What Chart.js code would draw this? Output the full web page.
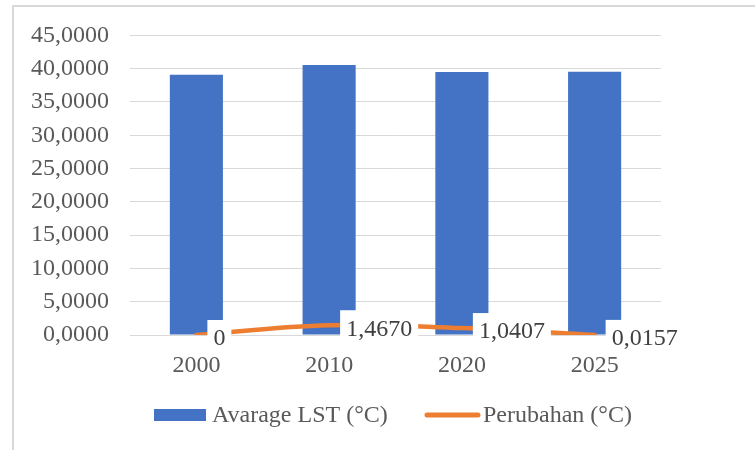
<!DOCTYPE html>
<html>
<head>
<meta charset="utf-8">
<script src="https://cdn.jsdelivr.net/npm/chart.js@4/dist/chart.umd.min.js"></script>
<style>
  html, body { margin: 0; padding: 0; background: #ffffff; }
  #chart { display: block; }
</style>
</head>
<body>
<canvas id="chart" width="755" height="450"></canvas>
<script>
// Land surface temperature per year and its change between periods
const years = ['2000', '2010', '2020', '2025'];
const avgLst = [39.08, 40.547, 39.5063, 39.522];
const perubahan = [0, 1.467, 1.0407, 0.0157];
const seriesNames = ['Avarage LST (°C)', 'Perubahan (°C)'];
const yTicks = [0, 5, 10, 15, 20, 25, 30, 35, 40, 45];

const FONT = '"Liberation Serif", "Times New Roman", serif';
const BLUE = '#4472C4';
const ORANGE = '#ED7D31';
const GRID = '#D9D9D9';
const TEXT = '#595959';

const fmt = v => v === 0 ? '0' : v.toFixed(4).replace('.', ',');

// Outer frame of the chart
const framePlugin = {
  id: 'frame',
  beforeDraw(chart) {
    const ctx = chart.ctx;
    ctx.save();
    ctx.strokeStyle = GRID;
    ctx.lineWidth = 2;
    ctx.beginPath();
    ctx.moveTo(13, chart.height + 2);
    ctx.lineTo(13, 6);
    ctx.lineTo(chart.width + 2, 6);
    ctx.stroke();
    ctx.restore();
  }
};

// Value labels on the change line, boxed in white to the right of each point
const lineLabels = {
  id: 'lineLabels',
  afterDatasetsDraw(chart) {
    const ctx = chart.ctx;
    const meta = chart.getDatasetMeta(1);
    ctx.save();
    ctx.font = '24px ' + FONT;
    ctx.textBaseline = 'middle';
    ctx.textAlign = 'left';
    meta.data.forEach((pt, i) => {
      const txt = fmt(perubahan[i]);
      const w = ctx.measureText(txt).width;
      const x = pt.x + 11;
      const cy = pt.y + 3;
      ctx.fillStyle = '#ffffff';
      ctx.fillRect(x, cy - 18, w + 12, 36);
      ctx.fillStyle = '#404040';
      ctx.fillText(txt, x + 6, cy + 1);
    });
    ctx.restore();
  }
};

// Legend below the axis
const legendPlugin = {
  id: 'customLegend',
  afterDraw(chart) {
    const ctx = chart.ctx;
    const y = 415;
    ctx.save();
    ctx.font = '24px ' + FONT;
    ctx.textBaseline = 'middle';
    ctx.fillStyle = BLUE;
    ctx.fillRect(154, y - 6, 52, 12);
    ctx.fillStyle = TEXT;
    ctx.fillText(seriesNames[0], 212, y + 1);
    ctx.strokeStyle = ORANGE;
    ctx.lineWidth = 5;
    ctx.lineCap = 'round';
    ctx.beginPath();
    ctx.moveTo(427, y);
    ctx.lineTo(478, y);
    ctx.stroke();
    ctx.fillStyle = TEXT;
    ctx.fillText(seriesNames[1], 483, y + 1);
    ctx.restore();
  }
};

new Chart(document.getElementById('chart'), {
  data: {
    labels: years,
    datasets: [
      {
        type: 'bar',
        label: seriesNames[0],
        data: avgLst,
        backgroundColor: BLUE,
        barPercentage: 0.4,
        categoryPercentage: 1,
        order: 2
      },
      {
        type: 'line',
        label: seriesNames[1],
        data: perubahan,
        borderColor: ORANGE,
        backgroundColor: ORANGE,
        borderWidth: 4.5,
        borderCapStyle: 'round',
        tension: 0.4,
        pointRadius: 0,
        order: 1
      }
    ]
  },
  options: {
    responsive: false,
    animation: false,
    devicePixelRatio: 1,
    layout: { padding: { left: 1, right: 94, top: 32, bottom: 0 } },
    plugins: {
      legend: { display: false },
      tooltip: { enabled: false }
    },
    scales: {
      x: {
        grid: { display: false, drawTicks: false },
        border: { display: false },
        ticks: {
          color: TEXT,
          font: { family: FONT, size: 24 },
          padding: 16,
          maxRotation: 0
        },
        afterFit(scale) { scale.height = 115; }
      },
      y: {
        min: 0,
        max: 45,
        afterBuildTicks(scale) { scale.ticks = yTicks.map(v => ({ value: v })); },
        grid: { color: GRID, lineWidth: 1, drawTicks: false },
        border: { display: false },
        ticks: {
          color: TEXT,
          font: { family: FONT, size: 24 },
          padding: 21,
          callback: v => v.toFixed(4).replace('.', ',')
        },
        afterFit(scale) { scale.width = 129; }
      }
    }
  },
  plugins: [framePlugin, lineLabels, legendPlugin]
});
</script>
</body>
</html>
